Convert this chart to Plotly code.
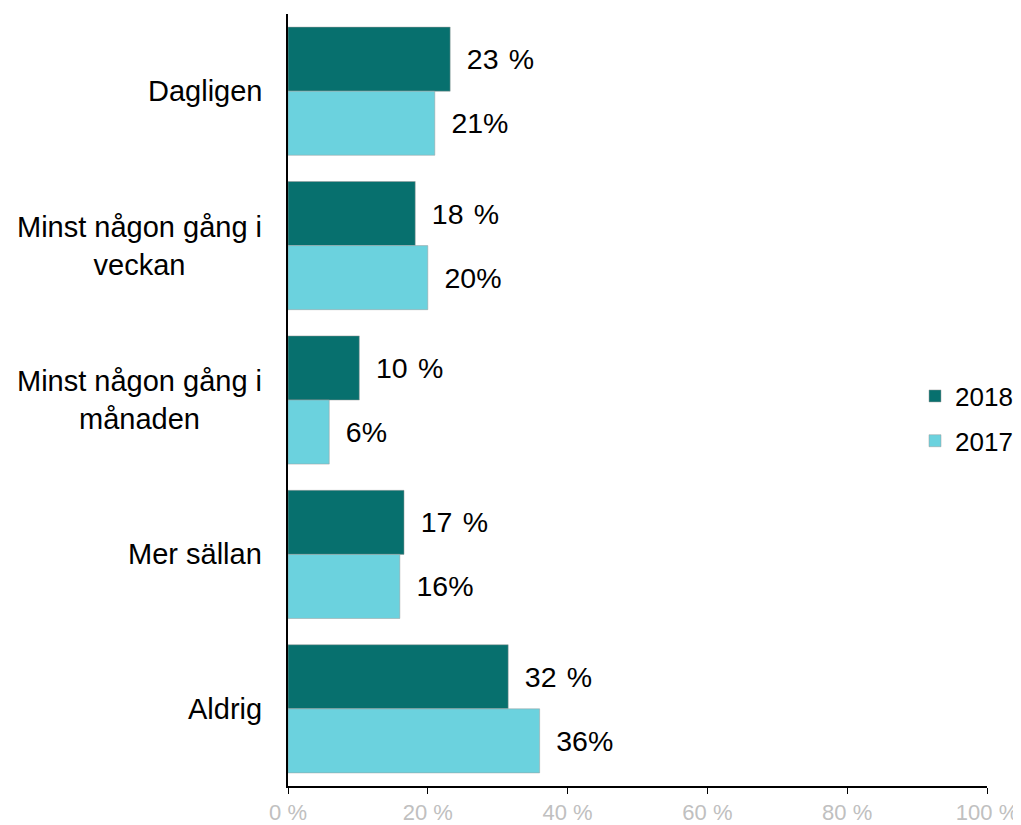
import plotly.graph_objects as go

categories = ["Dagligen", "Minst någon gång i<br>veckan", "Minst någon gång i<br>månaden",
              "Mer sällan", "Aldrig"]
values_2018 = [23.2, 18.2, 10.2, 16.6, 31.5]
values_2017 = [21.0, 20.0, 5.9, 16.0, 36.0]
labels_2018 = ["23\u00a0\u200a%", "18\u00a0\u200a%", "10\u00a0\u200a%", "17\u00a0\u200a%", "32\u00a0\u200a%"]
labels_2017 = ["21%", "20%", "6%", "16%", "36%"]
tick_vals = [0, 20, 40, 60, 80, 100]
tick_text = ["0 %", "20 %", "40 %", "60 %", "80 %", "100 %"]

font = "Liberation Sans, Arial, sans-serif"
pad = "\u00a0\u2009"

fig = go.Figure()
fig.add_trace(go.Bar(
    y=categories, x=values_2018, name="2018", orientation="h", legendgroup="a",
    marker=dict(color="#07706e", line=dict(color="#9a9a9a", width=0.5)),
    text=[pad + t for t in labels_2018], textposition="outside", constraintext="none",
    textfont=dict(size=28.5, color="black"), cliponaxis=False,
))
fig.add_trace(go.Bar(
    y=categories, x=values_2017, name="2017", orientation="h", legendgroup="b",
    marker=dict(color="#6bd2de", line=dict(color="#9a9a9a", width=0.5)),
    text=[pad + t for t in labels_2017], textposition="outside", constraintext="none",
    textfont=dict(size=28.5, color="black"), cliponaxis=False,
))

for c in categories:
    fig.add_annotation(
        x=0, xref="paper", y=c, yref="y", text=c, showarrow=False,
        xanchor="right", xshift=-24, align="center",
        font=dict(size=29, color="black", family=font),
    )

# page body has an 8px margin, so the figure is a bit smaller than the window
fig.update_layout(
    width=1013, height=817,
    margin=dict(l=280, r=34, t=6, b=39, autoexpand=False),
    barmode="group", bargap=0.17, bargroupgap=0,
    plot_bgcolor="white", paper_bgcolor="white",
    font=dict(family=font, color="black"),
    legend=dict(x=0.897, y=0.476, xanchor="left", yanchor="middle",
                font=dict(size=26), tracegroupgap=8, itemwidth=30),
    xaxis=dict(range=[0, 100], tickvals=tick_vals, ticktext=tick_text,
               showgrid=False, zeroline=False, showline=True, linecolor="black",
               linewidth=1.5, ticks="outside", ticklen=6, tickcolor="black",
               tickfont=dict(size=22, color="#c0c0c0")),
    yaxis=dict(autorange="reversed", showticklabels=False, showgrid=False,
               showline=True, linecolor="black", linewidth=1.5, ticks=""),
)

fig.write_html("out.html")
